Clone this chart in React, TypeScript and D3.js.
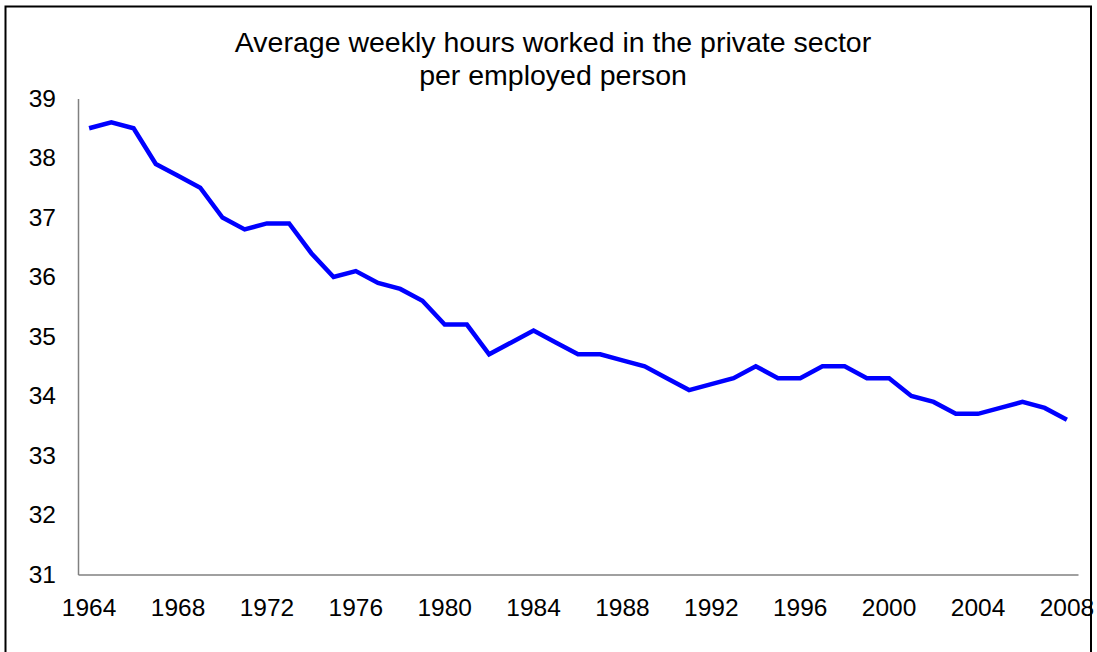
import { useEffect, useRef } from "react";
import * as d3 from "d3";

// Average weekly hours, private sector, per employed person
const years = d3.range(1964, 2009).map(String);
const hours = [
  38.5, 38.6, 38.5, 37.9, 37.7, 37.5, 37.0, 36.8, 36.9, 36.9,
  36.4, 36.0, 36.1, 35.9, 35.8, 35.6, 35.2, 35.2, 34.7, 34.9,
  35.1, 34.9, 34.7, 34.7, 34.6, 34.5, 34.3, 34.1, 34.2, 34.3,
  34.5, 34.3, 34.3, 34.5, 34.5, 34.3, 34.3, 34.0, 33.9, 33.7,
  33.7, 33.8, 33.9, 33.8, 33.6,
];
const yTicks = [31, 32, 33, 34, 35, 36, 37, 38, 39];
const xTickLabels = years.filter((_, i) => i % 4 === 0);
const titleLines = [
  "Average weekly hours worked in the private sector",
  "per employed person",
];

const W = 1097;
const H = 652;

export default function App() {
  const svgRef = useRef<SVGSVGElement | null>(null);

  useEffect(() => {
    const svg = d3.select(svgRef.current);
    svg.selectAll("*").remove();

    const margin = { top: 98.5, right: 19, bottom: 77.5, left: 78 };

    const x = d3
      .scaleBand()
      .domain(years)
      .range([margin.left, W - margin.right]);

    const y = d3
      .scaleLinear()
      .domain([31, 39])
      .range([H - margin.bottom, margin.top]);

    const font = "'Liberation Sans', Arial, sans-serif";

    // frame
    svg
      .append("rect")
      .attr("x", 5.5)
      .attr("y", 6.5)
      .attr("width", 1085.5)
      .attr("height", 660)
      .attr("fill", "white")
      .attr("stroke", "black")
      .attr("stroke-width", 2);

    // title
    svg
      .append("g")
      .selectAll("text")
      .data(titleLines)
      .join("text")
      .attr("x", 553)
      .attr("y", (_, i) => 52 + i * 33)
      .attr("text-anchor", "middle")
      .attr("font-family", font)
      .attr("font-size", 28.5)
      .attr("fill", "black")
      .text((d) => d);

    // axes
    const left = svg
      .append("g")
      .attr("transform", `translate(${margin.left},0)`)
      .call(d3.axisLeft(y).tickValues(yTicks).tickSize(0).tickPadding(22));
    left.select(".domain").attr("stroke", "#808080").attr("stroke-width", 1.5);
    left
      .selectAll("text")
      .attr("font-family", font)
      .attr("font-size", 24.5)
      .attr("fill", "black");

    const bottom = svg
      .append("g")
      .attr("transform", `translate(0,${H - margin.bottom})`)
      .call(
        d3.axisBottom(x).tickValues(xTickLabels).tickSize(0).tickPadding(24)
      );
    bottom
      .select(".domain")
      .attr("stroke", "#808080")
      .attr("stroke-width", 1.5);
    bottom
      .selectAll("text")
      .attr("font-family", font)
      .attr("font-size", 24.5)
      .attr("fill", "black");

    // series
    const line = d3
      .line<number>()
      .x((_, i) => x(years[i])! + x.bandwidth() / 2)
      .y((d) => y(d));

    svg
      .append("path")
      .datum(hours)
      .attr("fill", "none")
      .attr("stroke", "#0000ff")
      .attr("stroke-width", 4.5)
      .attr("stroke-linejoin", "miter")
      .attr("d", line);
  }, []);

  return (
    <svg
      ref={svgRef}
      width={W}
      height={H}
      style={{ position: "absolute", left: 0, top: 0 }}
    ></svg>
  );
}
